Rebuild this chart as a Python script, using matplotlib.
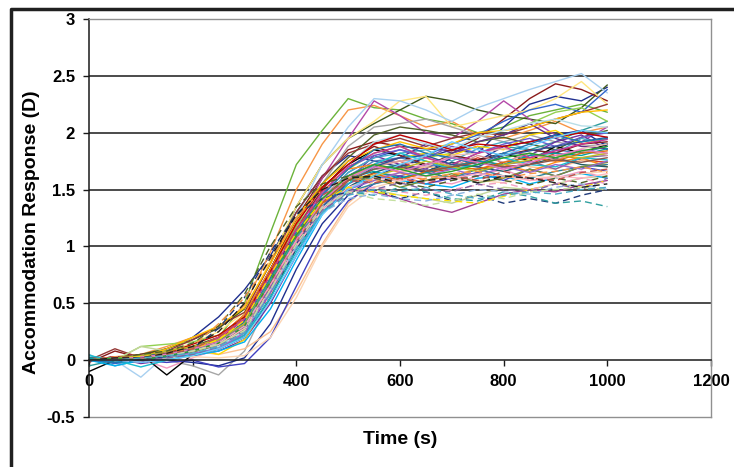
import matplotlib
matplotlib.use("Agg")
import matplotlib.pyplot as plt
from matplotlib.lines import Line2D

plt.rcParams['font.family'] = ['Liberation Sans', 'DejaVu Sans']

time_s = [0, 50, 100, 150, 200, 250, 300, 350, 400, 450, 500, 550, 600, 650, 700, 750, 800, 850, 900, 950, 1000]

s01 = [0.0, 0.02, 0.04, 0.08, 0.12, 0.2, 0.5, 1.12, 1.72, 2.02, 2.3, 2.22, 2.2, 2.12, 2.08, 2.0, 2.05, 2.15, 2.2, 2.25, 2.18]
s02 = [0.01, -0.02, 0.03, 0.1, 0.2, 0.38, 0.62, 0.92, 1.3, 1.62, 1.8, 1.75, 1.7, 1.78, 1.85, 1.82, 2.05, 2.25, 2.32, 2.28, 2.4]
s03 = [0.0, 0.03, 0.05, 0.12, 0.2, 0.28, 0.48, 0.95, 1.5, 1.9, 2.2, 2.24, 2.15, 2.05, 2.1, 1.98, 1.95, 2.02, 2.1, 2.0, 2.05]
s04 = [0.02, 0.0, 0.05, 0.1, 0.18, 0.28, 0.45, 0.85, 1.35, 1.72, 1.95, 2.08, 2.2, 2.32, 2.28, 2.2, 2.15, 2.12, 2.08, 2.22, 2.42]
s05 = [-0.02, 0.08, 0.02, 0.05, 0.1, 0.2, 0.4, 0.8, 1.25, 1.6, 1.85, 1.92, 1.88, 1.86, 1.84, 1.95, 2.12, 2.3, 2.43, 2.38, 2.28]
s06 = [0.0, 0.03, 0.0, 0.02, 0.06, 0.12, 0.28, 0.7, 1.18, 1.6, 1.95, 2.28, 2.15, 2.0, 1.95, 2.1, 2.28, 2.12, 1.98, 1.92, 2.05]
s07 = [0.0, -0.02, 0.02, 0.08, 0.15, 0.25, 0.42, 0.88, 1.35, 1.72, 1.95, 2.1, 2.28, 2.32, 2.05, 2.1, 2.15, 2.2, 2.3, 2.45, 2.25]
s08 = [0.03, 0.0, -0.15, 0.05, 0.08, 0.18, 0.32, 0.75, 1.25, 1.72, 2.05, 2.3, 2.28, 2.2, 2.1, 2.22, 2.3, 2.38, 2.45, 2.52, 2.35]
s09 = [0.0, 0.02, -0.02, 0.0, -0.05, -0.13, 0.08, 0.55, 1.12, 1.55, 1.88, 2.05, 2.08, 2.12, 2.05, 1.98, 1.92, 1.98, 1.92, 1.88, 1.9]
s10 = [0.01, 0.0, 0.03, 0.08, 0.12, 0.2, 0.38, 0.8, 1.22, 1.55, 1.78, 1.98, 2.05, 2.02, 1.98, 1.92, 1.96, 1.9, 1.85, 1.96, 2.02]
s11 = [0.0, -0.03, 0.0, 0.03, 0.05, 0.1, 0.24, 0.6, 1.02, 1.4, 1.65, 1.78, 1.85, 1.8, 1.9, 1.98, 2.1, 2.2, 2.25, 2.18, 2.38]
s12 = [-0.05, 0.0, 0.02, 0.04, 0.08, 0.15, 0.28, 0.62, 1.02, 1.35, 1.58, 1.68, 1.72, 1.65, 1.72, 1.82, 1.88, 1.85, 1.92, 2.02, 2.1]
s13 = [0.02, 0.0, 0.0, 0.05, 0.1, 0.18, 0.36, 0.75, 1.12, 1.42, 1.62, 1.72, 1.75, 1.65, 1.68, 1.78, 1.7, 1.72, 1.82, 1.76, 1.74]
s14 = [0.0, 0.02, -0.03, 0.0, 0.04, 0.08, 0.18, 0.5, 0.92, 1.3, 1.58, 1.8, 1.72, 1.68, 1.82, 1.88, 1.72, 1.8, 1.92, 1.98, 1.85]
s15 = [0.05, -0.05, 0.0, 0.02, 0.05, 0.12, 0.26, 0.62, 1.05, 1.42, 1.65, 1.78, 1.82, 1.85, 1.75, 1.86, 1.92, 1.85, 1.82, 1.95, 1.9]
s16 = [0.0, 0.02, 0.01, -0.07, 0.02, 0.1, 0.24, 0.58, 0.98, 1.3, 1.5, 1.6, 1.65, 1.58, 1.55, 1.62, 1.68, 1.58, 1.6, 1.66, 1.6]
s17 = [0.0, 0.03, 0.02, 0.0, -0.02, -0.05, 0.02, 0.32, 0.8, 1.2, 1.45, 1.62, 1.7, 1.65, 1.78, 1.75, 1.88, 1.92, 1.98, 2.02, 1.88]
s18 = [-0.1, 0.0, 0.05, -0.13, 0.05, 0.15, 0.34, 0.8, 1.22, 1.52, 1.72, 1.85, 1.8, 1.7, 1.68, 1.76, 1.82, 1.75, 1.88, 1.82, 1.9]
s19 = [0.0, 0.02, 0.03, 0.05, 0.08, 0.05, 0.1, 0.25, 0.6, 1.02, 1.38, 1.58, 1.65, 1.7, 1.68, 1.74, 1.78, 1.7, 1.68, 1.76, 1.72]
s20 = [0.02, 0.0, 0.12, 0.14, 0.16, 0.22, 0.38, 0.78, 1.18, 1.48, 1.68, 1.82, 1.88, 1.78, 1.82, 1.92, 1.98, 2.08, 2.18, 2.22, 2.1]
s21 = [0.0, 0.1, 0.02, 0.08, 0.18, 0.3, 0.42, 0.85, 1.3, 1.62, 1.82, 1.9, 1.95, 1.88, 1.95, 2.0, 1.98, 2.05, 2.12, 2.18, 2.25]
s22 = [0.0, 0.01, 0.03, 0.08, 0.1, 0.05, 0.18, 0.55, 1.0, 1.38, 1.58, 1.72, 1.78, 1.82, 1.8, 1.88, 1.85, 1.98, 2.02, 1.9, 1.95]
s23 = [0.02, 0.0, 0.12, 0.08, 0.1, 0.15, 0.28, 0.65, 1.02, 1.32, 1.48, 1.5, 1.45, 1.42, 1.38, 1.45, 1.52, 1.5, 1.55, 1.6, 1.62]
s24 = [0.0, -0.02, 0.0, 0.02, 0.05, 0.1, 0.2, 0.55, 0.98, 1.32, 1.55, 1.65, 1.62, 1.68, 1.58, 1.65, 1.72, 1.75, 1.68, 1.78, 1.8]
s25 = [0.01, 0.0, -0.02, 0.02, 0.06, 0.12, 0.28, 0.65, 1.08, 1.42, 1.62, 1.75, 1.78, 1.72, 1.7, 1.75, 1.82, 1.78, 1.85, 1.82, 1.88]
s26 = [0.0, 0.02, 0.0, 0.05, 0.1, 0.2, 0.4, 0.8, 1.22, 1.52, 1.68, 1.72, 1.65, 1.58, 1.62, 1.68, 1.72, 1.66, 1.74, 1.78, 1.7]
s27 = [0.0, 0.0, 0.03, 0.05, 0.08, 0.1, 0.22, 0.6, 1.02, 1.38, 1.62, 1.72, 1.78, 1.9, 1.82, 1.92, 1.98, 2.08, 1.95, 1.88, 1.86]
s28 = [0.0, 0.02, 0.0, -0.02, 0.0, -0.06, -0.03, 0.2, 0.65, 1.1, 1.4, 1.55, 1.62, 1.55, 1.6, 1.65, 1.58, 1.68, 1.62, 1.7, 1.66]
s29 = [0.0, 0.02, 0.05, 0.08, 0.12, 0.18, 0.3, 0.72, 1.15, 1.5, 1.75, 1.88, 1.8, 1.72, 1.8, 1.76, 1.8, 1.85, 1.82, 1.9, 1.92]
s30 = [0.02, 0.0, -0.02, 0.03, 0.08, 0.12, 0.28, 0.66, 1.05, 1.38, 1.5, 1.48, 1.42, 1.35, 1.3, 1.38, 1.46, 1.5, 1.48, 1.54, 1.58]
s31 = [0.0, -0.05, 0.0, 0.02, 0.04, 0.08, 0.16, 0.45, 0.88, 1.28, 1.52, 1.62, 1.58, 1.55, 1.52, 1.6, 1.62, 1.55, 1.6, 1.64, 1.6]
s32 = [0.0, 0.02, 0.0, 0.03, 0.06, 0.12, 0.26, 0.6, 0.98, 1.3, 1.48, 1.55, 1.6, 1.65, 1.6, 1.68, 1.62, 1.6, 1.66, 1.7, 1.72]
s33 = [0.0, 0.02, 0.04, 0.06, 0.1, 0.15, 0.3, 0.68, 1.08, 1.4, 1.6, 1.72, 1.75, 1.7, 1.8, 1.82, 1.86, 1.8, 1.78, 1.86, 1.9]
s34 = [0.0, 0.0, 0.02, 0.1, 0.2, 0.3, 0.46, 0.85, 1.25, 1.55, 1.75, 1.85, 1.92, 1.86, 1.9, 2.0, 2.02, 2.05, 2.12, 2.18, 2.2]
s35 = [0.02, 0.0, 0.0, 0.02, 0.04, 0.1, 0.2, 0.55, 0.98, 1.32, 1.52, 1.65, 1.72, 1.66, 1.74, 1.7, 1.66, 1.72, 1.78, 1.72, 1.7]
s36 = [0.0, 0.0, 0.01, 0.02, 0.03, 0.02, 0.04, 0.2, 0.55, 1.0, 1.35, 1.52, 1.58, 1.62, 1.6, 1.58, 1.56, 1.62, 1.6, 1.64, 1.66]
s37 = [0.0, 0.02, 0.03, 0.06, 0.1, 0.18, 0.32, 0.7, 1.12, 1.45, 1.62, 1.7, 1.75, 1.78, 1.7, 1.8, 1.74, 1.82, 1.76, 1.84, 1.8]
s38 = [0.02, -0.02, 0.0, 0.04, 0.08, 0.14, 0.3, 0.66, 1.06, 1.4, 1.6, 1.66, 1.6, 1.65, 1.7, 1.75, 1.72, 1.8, 1.82, 1.8, 1.86]
s39 = [0.0, 0.0, 0.02, 0.05, 0.1, 0.16, 0.32, 0.7, 1.12, 1.46, 1.7, 1.8, 1.85, 1.78, 1.88, 1.82, 1.9, 1.95, 1.88, 1.96, 2.0]
s40 = [0.0, 0.02, 0.0, 0.03, 0.06, 0.12, 0.26, 0.62, 1.05, 1.42, 1.72, 1.92, 1.98, 1.9, 1.86, 1.96, 2.02, 2.08, 2.12, 2.06, 2.05]
s41 = [0.0, 0.02, 0.02, 0.04, 0.08, 0.14, 0.28, 0.65, 1.05, 1.38, 1.58, 1.64, 1.58, 1.66, 1.7, 1.68, 1.74, 1.78, 1.75, 1.82, 1.84]
s42 = [0.0, 0.0, 0.03, 0.06, 0.1, 0.2, 0.36, 0.76, 1.15, 1.48, 1.7, 1.82, 1.88, 1.78, 1.72, 1.82, 1.88, 1.78, 1.84, 1.9, 1.94]
s43 = [0.0, 0.02, 0.04, 0.06, 0.1, 0.16, 0.28, 0.62, 1.0, 1.35, 1.55, 1.7, 1.78, 1.8, 1.72, 1.7, 1.8, 1.84, 1.88, 1.92, 1.96]
s44 = [0.0, 0.0, 0.0, 0.03, 0.07, 0.14, 0.28, 0.66, 1.08, 1.4, 1.58, 1.6, 1.52, 1.58, 1.64, 1.56, 1.6, 1.68, 1.62, 1.7, 1.74]
s45 = [0.04, 0.0, -0.06, 0.0, 0.05, 0.1, 0.22, 0.55, 0.95, 1.3, 1.55, 1.72, 1.82, 1.75, 1.68, 1.72, 1.78, 1.72, 1.7, 1.78, 1.76]
s46 = [0.0, 0.03, 0.0, 0.06, 0.14, 0.22, 0.38, 0.78, 1.2, 1.52, 1.72, 1.9, 1.98, 1.92, 1.85, 1.9, 1.88, 1.92, 1.96, 2.0, 1.96]
s47 = [0.0, 0.0, 0.02, 0.04, 0.06, 0.1, 0.24, 0.6, 1.0, 1.32, 1.5, 1.58, 1.65, 1.62, 1.68, 1.62, 1.7, 1.65, 1.72, 1.68, 1.75]
s48 = [0.0, 0.02, 0.02, 0.05, 0.08, 0.14, 0.28, 0.62, 1.0, 1.32, 1.52, 1.6, 1.58, 1.62, 1.6, 1.64, 1.62, 1.58, 1.62, 1.6, 1.64]
s49 = [0.0, -0.02, 0.0, 0.03, 0.08, 0.16, 0.34, 0.72, 1.12, 1.45, 1.68, 1.85, 1.9, 1.82, 1.78, 1.72, 1.82, 1.9, 1.98, 1.92, 1.95]
s50 = [0.0, 0.02, 0.04, 0.08, 0.12, 0.18, 0.32, 0.7, 1.1, 1.42, 1.6, 1.62, 1.68, 1.75, 1.7, 1.66, 1.72, 1.76, 1.8, 1.78, 1.82]
s51 = [0.0, 0.0, 0.02, 0.06, 0.1, 0.16, 0.3, 0.68, 1.08, 1.4, 1.58, 1.68, 1.7, 1.66, 1.7, 1.74, 1.7, 1.72, 1.76, 1.74, 1.78]
s52 = [0.0, 0.02, -0.02, 0.0, 0.04, 0.1, 0.2, 0.52, 0.92, 1.28, 1.5, 1.62, 1.72, 1.8, 1.92, 1.85, 1.8, 1.88, 1.96, 2.02, 2.0]
s53 = [0.0, 0.0, 0.03, 0.05, 0.1, 0.16, 0.3, 0.66, 1.06, 1.4, 1.6, 1.7, 1.66, 1.72, 1.78, 1.74, 1.68, 1.74, 1.8, 1.85, 1.82]
s54 = [0.0, 0.02, 0.0, 0.04, 0.08, 0.15, 0.3, 0.7, 1.1, 1.42, 1.62, 1.72, 1.68, 1.62, 1.66, 1.72, 1.78, 1.82, 1.78, 1.84, 1.88]

d01 = [0.0, 0.02, 0.0, 0.03, 0.1, 0.28, 0.55, 0.95, 1.28, 1.42, 1.48, 1.5, 1.42, 1.48, 1.4, 1.45, 1.38, 1.42, 1.38, 1.45, 1.5]
d02 = [0.0, 0.0, 0.02, 0.04, 0.08, 0.15, 0.3, 0.7, 1.08, 1.35, 1.48, 1.45, 1.52, 1.48, 1.42, 1.4, 1.48, 1.44, 1.38, 1.4, 1.35]
d03 = [0.0, 0.02, 0.03, 0.06, 0.1, 0.18, 0.35, 0.75, 1.12, 1.4, 1.52, 1.48, 1.45, 1.42, 1.4, 1.38, 1.44, 1.5, 1.55, 1.52, 1.58]
d04 = [0.0, 0.0, -0.02, 0.02, 0.06, 0.12, 0.25, 0.62, 1.0, 1.3, 1.42, 1.46, 1.42, 1.4, 1.45, 1.5, 1.48, 1.46, 1.52, 1.55, 1.5]
d05 = [0.0, 0.02, 0.05, 0.08, 0.15, 0.3, 0.58, 1.0, 1.35, 1.55, 1.62, 1.6, 1.56, 1.52, 1.58, 1.62, 1.58, 1.54, 1.6, 1.56, 1.62]
d06 = [0.0, 0.03, 0.02, 0.06, 0.12, 0.32, 0.55, 0.88, 1.25, 1.5, 1.6, 1.58, 1.55, 1.6, 1.64, 1.66, 1.6, 1.64, 1.66, 1.7, 1.65]
d07 = [0.0, 0.0, 0.02, 0.04, 0.08, 0.15, 0.3, 0.66, 1.05, 1.35, 1.48, 1.52, 1.48, 1.45, 1.5, 1.54, 1.56, 1.5, 1.55, 1.6, 1.55]
d08 = [0.0, 0.02, 0.0, 0.02, 0.05, 0.12, 0.26, 0.64, 1.02, 1.32, 1.46, 1.5, 1.56, 1.5, 1.48, 1.55, 1.5, 1.48, 1.55, 1.5, 1.6]
d09 = [0.0, 0.0, 0.02, 0.04, 0.08, 0.14, 0.26, 0.62, 1.02, 1.34, 1.48, 1.42, 1.4, 1.36, 1.4, 1.46, 1.42, 1.48, 1.5, 1.52, 1.5]
d10 = [0.0, 0.02, 0.02, 0.05, 0.1, 0.2, 0.38, 0.78, 1.15, 1.45, 1.58, 1.56, 1.6, 1.55, 1.62, 1.58, 1.66, 1.6, 1.58, 1.65, 1.68]
d11 = [0.0, 0.02, 0.02, 0.06, 0.12, 0.25, 0.5, 0.9, 1.28, 1.5, 1.6, 1.62, 1.55, 1.58, 1.6, 1.56, 1.62, 1.6, 1.56, 1.52, 1.55]
d12 = [0.0, 0.0, 0.02, 0.04, 0.06, 0.12, 0.24, 0.58, 0.98, 1.3, 1.45, 1.5, 1.48, 1.52, 1.46, 1.42, 1.45, 1.48, 1.46, 1.5, 1.52]

solid_series = [s01, s02, s03, s04, s05, s06, s07, s08, s09, s10, s11, s12, s13, s14, s15,
                s16, s17, s18, s19, s20, s21, s22, s23, s24, s25, s26, s27, s28, s29, s30,
                s31, s32, s33, s34, s35, s36, s37, s38, s39, s40, s41, s42, s43, s44, s45,
                s46, s47, s48, s49, s50, s51, s52, s53, s54]
dashed_series = [d01, d02, d03, d04, d05, d06, d07, d08, d09, d10, d11, d12]

solid_colors = ['#6BB33A', '#1F2F8F', '#F79646', '#3F5A1E', '#8B1A1A', '#B348A8', '#FFE680', '#A8D0F0',
                '#A6A6A6', '#4F6228', '#3366CC', '#2A9A9A', '#E0402A', '#7030A0', '#4BACC6', '#F29AC0',
                '#1F2F8F', '#000000', '#FAC090', '#92D050', '#953735', '#FFD700', '#C3D69B', '#8064A2',
                '#4F81BD', '#FF8C1A', '#5F2C8A', '#4040C0', '#7F1F1F', '#A0408F', '#00B0F0', '#31859C',
                '#E6B9B8', '#FFC000', '#215967', '#FCD5B4', '#D99694', '#00A0A0', '#6A5ACD', '#B7DEE8',
                '#E46C0A', '#CC3399', '#2F5597', '#76923C', '#17BECF', '#C00000', '#9966CC', '#FFB6C1',
                '#1F77B4', '#BCBD22', '#8C564B', '#66CCFF', '#E377C2', '#2CA02C']
dashed_colors = ['#1F3A7A', '#31A0A0', '#FFE000', '#8DB4E2', '#4F6228', '#F79646', '#F4A0C0', '#8064A2',
                 '#C4E0A0', '#C0504D', '#202020', '#4BACC6']

y_ticks = [-0.5, 0, 0.5, 1, 1.5, 2, 2.5, 3]
y_tick_labels = ['-0.5', '0', '0.5', '1', '1.5', '2', '2.5', '3']
x_ticks = [0, 200, 400, 600, 800, 1000, 1200]
x_tick_labels = ['0', '200', '400', '600', '800', '1000', '1200']

fig = plt.figure(figsize=(7.34, 4.67), dpi=100)
ax = fig.add_axes([89 / 734, 1 - 417 / 467, (711 - 89) / 734, (417 - 19) / 467])

for yv in [0.5, 1, 1.5, 2, 2.5]:
    ax.axhline(yv, color='#1A1A1A', lw=1.1, zorder=1)

for vals, col in zip(solid_series, solid_colors):
    ax.plot(time_s, vals, color=col, lw=1.0, zorder=2,
            solid_joinstyle='round', solid_capstyle='round')
for vals, col in zip(dashed_series, dashed_colors):
    ax.plot(time_s, vals, color=col, lw=1.0, ls=(0, (5, 3)), zorder=2)

ax.set_xlim(0, 1200)
ax.set_ylim(-0.5, 3)
ax.set_xticks(x_ticks)
ax.set_xticklabels(x_tick_labels)
ax.set_yticks(y_ticks)
ax.set_yticklabels(y_tick_labels)

ax.spines['bottom'].set_position(('data', 0))
ax.spines['bottom'].set_color('#1A1A1A')
ax.spines['bottom'].set_linewidth(1.1)
ax.spines['left'].set_color('#1A1A1A')
ax.spines['left'].set_linewidth(1.1)
for side in ['top', 'right']:
    ax.spines[side].set_color('#909090')
    ax.spines[side].set_linewidth(1.0)
ax.axhline(-0.5, color='#909090', lw=1.0, clip_on=False, zorder=0)

ax.tick_params(axis='both', direction='out', length=4, width=1, color='#1A1A1A',
               labelsize=12, pad=6)
for lab in ax.get_xticklabels() + ax.get_yticklabels():
    lab.set_fontweight('bold')

fig.text(400 / 734, 1 - 440 / 467, 'Time (s)', ha='center', va='center',
         fontsize=14, fontweight='bold')
fig.text(32 / 734, 1 - 232 / 467, 'Accommodation Response (D)', ha='center', va='center',
         rotation=90, fontsize=14, fontweight='bold')

fig.add_artist(Line2D([11 / 734, 11 / 734, 1.0], [0.0, 1 - 9 / 467, 1 - 9 / 467],
                      transform=fig.transFigure, color='#202020', lw=2.5))

fig.savefig('out.png', dpi=100)
